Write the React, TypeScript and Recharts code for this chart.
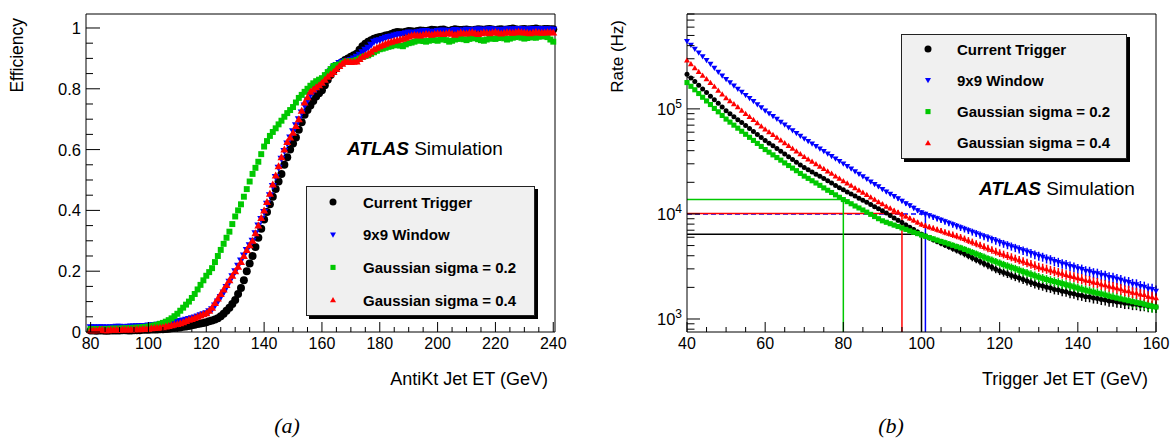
import React from 'react'
import { ScatterChart, Scatter, XAxis, YAxis, ReferenceLine, ErrorBar } from 'recharts'

const FONT = '"Liberation Sans", Arial, Helvetica, sans-serif'

// ---- (a) turn-on curves: efficiency vs offline AntiKt jet ET, 1 GeV bins ----
const etOffline = [
  80, 81, 82, 83, 84, 85, 86, 87, 88, 89,
  90, 91, 92, 93, 94, 95, 96, 97, 98, 99,
  100, 101, 102, 103, 104, 105, 106, 107, 108, 109,
  110, 111, 112, 113, 114, 115, 116, 117, 118, 119,
  120, 121, 122, 123, 124, 125, 126, 127, 128, 129,
  130, 131, 132, 133, 134, 135, 136, 137, 138, 139,
  140, 141, 142, 143, 144, 145, 146, 147, 148, 149,
  150, 151, 152, 153, 154, 155, 156, 157, 158, 159,
  160, 161, 162, 163, 164, 165, 166, 167, 168, 169,
  170, 171, 172, 173, 174, 175, 176, 177, 178, 179,
  180, 181, 182, 183, 184, 185, 186, 187, 188, 189,
  190, 191, 192, 193, 194, 195, 196, 197, 198, 199,
  200, 201, 202, 203, 204, 205, 206, 207, 208, 209,
  210, 211, 212, 213, 214, 215, 216, 217, 218, 219,
  220, 221, 222, 223, 224, 225, 226, 227, 228, 229,
  230, 231, 232, 233, 234, 235, 236, 237, 238, 239,
  240,
]
const effCurrent = [
  0.005, 0.005, 0.004, 0.005, 0.005, 0.004, 0.004, 0.005, 0.005, 0.005,
  0.005, 0.006, 0.006, 0.005, 0.005, 0.006, 0.006, 0.006, 0.007, 0.007,
  0.007, 0.008, 0.008, 0.008, 0.009, 0.009, 0.010, 0.011, 0.012, 0.013,
  0.014, 0.015, 0.017, 0.018, 0.020, 0.022, 0.024, 0.026, 0.028, 0.030,
  0.032, 0.035, 0.038, 0.041, 0.045, 0.052, 0.060, 0.070, 0.080, 0.092,
  0.105, 0.125, 0.145, 0.170, 0.200, 0.225, 0.250, 0.280, 0.310, 0.340,
  0.370, 0.395, 0.420, 0.445, 0.470, 0.495, 0.520, 0.550, 0.575, 0.600,
  0.620, 0.640, 0.665, 0.690, 0.715, 0.730, 0.745, 0.760, 0.775, 0.785,
  0.795, 0.812, 0.830, 0.845, 0.860, 0.870, 0.880, 0.888, 0.895, 0.900,
  0.905, 0.910, 0.915, 0.928, 0.940, 0.948, 0.955, 0.960, 0.965, 0.968,
  0.970, 0.972, 0.975, 0.977, 0.980, 0.984, 0.987, 0.986, 0.985, 0.988,
  0.990, 0.989, 0.988, 0.990, 0.992, 0.991, 0.990, 0.992, 0.994, 0.993,
  0.992, 0.994, 0.995, 0.992, 0.990, 0.993, 0.996, 0.994, 0.993, 0.994,
  0.995, 0.993, 0.992, 0.994, 0.996, 0.995, 0.994, 0.996, 0.997, 0.995,
  0.993, 0.995, 0.996, 0.994, 0.995, 0.997, 0.998, 0.996, 0.994, 0.996,
  0.997, 0.995, 0.996, 0.997, 0.998, 0.996, 0.995, 0.997, 0.997, 0.996,
  0.996,
]
const eff9x9 = [
  0.016, 0.016, 0.015, 0.016, 0.016, 0.015, 0.015, 0.016, 0.016, 0.017,
  0.017, 0.016, 0.016, 0.017, 0.018, 0.018, 0.019, 0.019, 0.020, 0.020,
  0.021, 0.022, 0.023, 0.024, 0.025, 0.026, 0.027, 0.028, 0.030, 0.032,
  0.034, 0.036, 0.038, 0.040, 0.043, 0.045, 0.048, 0.051, 0.055, 0.058,
  0.062, 0.068, 0.075, 0.087, 0.100, 0.115, 0.130, 0.148, 0.165, 0.183,
  0.200, 0.218, 0.235, 0.252, 0.270, 0.285, 0.300, 0.325, 0.350, 0.372,
  0.395, 0.422, 0.450, 0.480, 0.510, 0.540, 0.570, 0.595, 0.620, 0.640,
  0.660, 0.680, 0.700, 0.722, 0.745, 0.762, 0.780, 0.790, 0.800, 0.810,
  0.820, 0.832, 0.845, 0.858, 0.870, 0.878, 0.885, 0.888, 0.890, 0.892,
  0.895, 0.900, 0.905, 0.912, 0.920, 0.928, 0.935, 0.945, 0.955, 0.958,
  0.960, 0.964, 0.968, 0.970, 0.972, 0.975, 0.978, 0.979, 0.980, 0.983,
  0.985, 0.984, 0.983, 0.986, 0.988, 0.989, 0.990, 0.988, 0.986, 0.988,
  0.990, 0.991, 0.992, 0.990, 0.989, 0.991, 0.993, 0.992, 0.990, 0.992,
  0.994, 0.993, 0.992, 0.994, 0.995, 0.994, 0.993, 0.995, 0.996, 0.995,
  0.994, 0.993, 0.992, 0.994, 0.996, 0.995, 0.995, 0.996, 0.997, 0.996,
  0.994, 0.995, 0.996, 0.997, 0.997, 0.996, 0.995, 0.996, 0.996, 0.995,
  0.994,
]
const effGaus02 = [
  0.010, 0.010, 0.009, 0.010, 0.010, 0.010, 0.010, 0.011, 0.011, 0.011,
  0.011, 0.012, 0.012, 0.012, 0.013, 0.014, 0.014, 0.015, 0.016, 0.017,
  0.018, 0.020, 0.022, 0.024, 0.027, 0.030, 0.034, 0.039, 0.045, 0.052,
  0.060, 0.070, 0.080, 0.090, 0.100, 0.112, 0.125, 0.140, 0.155, 0.170,
  0.185, 0.197, 0.210, 0.230, 0.250, 0.270, 0.290, 0.310, 0.330, 0.355,
  0.380, 0.400, 0.420, 0.445, 0.470, 0.495, 0.520, 0.540, 0.560, 0.585,
  0.610, 0.628, 0.645, 0.658, 0.670, 0.683, 0.695, 0.708, 0.720, 0.730,
  0.740, 0.755, 0.770, 0.780, 0.790, 0.800, 0.810, 0.818, 0.825, 0.830,
  0.835, 0.845, 0.855, 0.865, 0.875, 0.878, 0.880, 0.885, 0.890, 0.890,
  0.890, 0.892, 0.895, 0.900, 0.905, 0.908, 0.910, 0.915, 0.920, 0.925,
  0.930, 0.932, 0.935, 0.938, 0.940, 0.943, 0.945, 0.942, 0.940, 0.946,
  0.950, 0.952, 0.955, 0.958, 0.960, 0.957, 0.955, 0.958, 0.962, 0.960,
  0.958, 0.962, 0.965, 0.960, 0.955, 0.958, 0.962, 0.964, 0.966, 0.963,
  0.960, 0.964, 0.968, 0.966, 0.963, 0.960, 0.958, 0.962, 0.966, 0.965,
  0.964, 0.967, 0.970, 0.966, 0.962, 0.965, 0.968, 0.970, 0.972, 0.968,
  0.965, 0.967, 0.970, 0.969, 0.968, 0.971, 0.974, 0.972, 0.970, 0.962,
  0.955,
]
const effGaus04 = [
  0.006, 0.006, 0.006, 0.007, 0.007, 0.006, 0.006, 0.007, 0.007, 0.007,
  0.007, 0.008, 0.008, 0.008, 0.008, 0.009, 0.009, 0.009, 0.010, 0.010,
  0.011, 0.012, 0.013, 0.014, 0.015, 0.016, 0.018, 0.020, 0.022, 0.024,
  0.026, 0.029, 0.032, 0.036, 0.040, 0.043, 0.046, 0.050, 0.054, 0.058,
  0.062, 0.070, 0.080, 0.095, 0.110, 0.125, 0.140, 0.155, 0.170, 0.185,
  0.200, 0.215, 0.230, 0.250, 0.270, 0.285, 0.300, 0.325, 0.350, 0.375,
  0.400, 0.428, 0.455, 0.485, 0.515, 0.545, 0.575, 0.600, 0.625, 0.640,
  0.655, 0.678, 0.700, 0.728, 0.755, 0.772, 0.790, 0.798, 0.805, 0.812,
  0.820, 0.830, 0.840, 0.848, 0.855, 0.865, 0.875, 0.882, 0.890, 0.889,
  0.888, 0.889, 0.890, 0.898, 0.905, 0.910, 0.915, 0.922, 0.930, 0.935,
  0.940, 0.944, 0.948, 0.952, 0.955, 0.958, 0.960, 0.962, 0.965, 0.968,
  0.972, 0.975, 0.977, 0.976, 0.975, 0.978, 0.980, 0.979, 0.978, 0.980,
  0.982, 0.981, 0.980, 0.982, 0.984, 0.981, 0.978, 0.982, 0.985, 0.983,
  0.982, 0.984, 0.986, 0.983, 0.980, 0.983, 0.985, 0.984, 0.983, 0.985,
  0.987, 0.984, 0.982, 0.984, 0.986, 0.985, 0.984, 0.986, 0.988, 0.986,
  0.985, 0.984, 0.983, 0.985, 0.987, 0.985, 0.984, 0.985, 0.986, 0.986,
  0.985,
]

// ---- (b) trigger rate (Hz) vs trigger jet ET, 1 GeV bins ----
const etTrigger = [
  40, 41, 42, 43, 44, 45, 46, 47, 48, 49,
  50, 51, 52, 53, 54, 55, 56, 57, 58, 59,
  60, 61, 62, 63, 64, 65, 66, 67, 68, 69,
  70, 71, 72, 73, 74, 75, 76, 77, 78, 79,
  80, 81, 82, 83, 84, 85, 86, 87, 88, 89,
  90, 91, 92, 93, 94, 95, 96, 97, 98, 99,
  100, 101, 102, 103, 104, 105, 106, 107, 108, 109,
  110, 111, 112, 113, 114, 115, 116, 117, 118, 119,
  120, 121, 122, 123, 124, 125, 126, 127, 128, 129,
  130, 131, 132, 133, 134, 135, 136, 137, 138, 139,
  140, 141, 142, 143, 144, 145, 146, 147, 148, 149,
  150, 151, 152, 153, 154, 155, 156, 157, 158, 159,
  160,
]
const rateCurrent = [
  214000, 197000, 182000, 168000, 155000, 143000, 132000, 122000, 113000, 104000,
  96000, 90000, 84200, 79000, 74000, 69300, 64900, 60800, 57000, 53400,
  50000, 47200, 44500, 41900, 39400, 37200, 35100, 33000, 31100, 29300,
  27700, 26400, 25100, 23900, 22800, 21700, 20700, 19700, 18700, 17800,
  17000, 16200, 15500, 14800, 14100, 13500, 12900, 12300, 11700, 11200,
  10700, 10200, 9640, 9160, 8710, 8270, 7850, 7460, 7100, 6740,
  6400, 6150, 5920, 5690, 5480, 5270, 5070, 4880, 4700, 4520,
  4350, 4170, 4000, 3830, 3670, 3520, 3380, 3240, 3100, 2980,
  2860, 2770, 2690, 2600, 2520, 2450, 2380, 2300, 2230, 2160,
  2100, 2060, 2000, 1970, 1910, 1890, 1840, 1820, 1760, 1740,
  1690, 1670, 1630, 1620, 1580, 1570, 1530, 1520, 1480, 1480,
  1450, 1440, 1410, 1410, 1380, 1380, 1350, 1350, 1320, 1320,
  1300,
]
const rate9x9 = [
  440000, 405000, 372000, 342000, 315000, 290000, 267000, 245000, 225000, 207000,
  191000, 178000, 166000, 155000, 145000, 135000, 126000, 118000, 110000, 103000,
  96000, 90300, 84900, 79900, 75200, 70700, 66400, 62400, 58700, 55200,
  52000, 49200, 46600, 44100, 41700, 39500, 37400, 35400, 33500, 31700,
  30000, 28400, 26900, 25400, 24000, 22700, 21500, 20300, 19200, 18200,
  17200, 16300, 15500, 14700, 14000, 13300, 12600, 12000, 11400, 10800,
  10300, 9960, 9640, 9330, 9040, 8740, 8450, 8180, 7920, 7660,
  7410, 7180, 6950, 6730, 6520, 6310, 6110, 5920, 5730, 5550,
  5370, 5210, 5060, 4910, 4760, 4620, 4490, 4360, 4230, 4100,
  3980, 3890, 3750, 3680, 3540, 3470, 3360, 3300, 3180, 3120,
  3020, 2970, 2870, 2830, 2740, 2710, 2620, 2590, 2500, 2470,
  2400, 2350, 2270, 2240, 2150, 2130, 2050, 2020, 1940, 1920,
  1850,
]
const rateGaus02 = [
  178000, 164000, 152000, 140000, 129000, 119000, 110000, 101000, 93800, 86600,
  80000, 74800, 70000, 65500, 61200, 57300, 53600, 50100, 46900, 43900,
  41000, 38700, 36500, 34400, 32500, 30600, 28900, 27300, 25800, 24300,
  22900, 21800, 20700, 19700, 18700, 17700, 16800, 16000, 15200, 14400,
  13700, 13100, 12500, 11900, 11400, 10900, 10400, 9910, 9440, 9010,
  8600, 8330, 8070, 7830, 7590, 7360, 7130, 6910, 6700, 6500,
  6300, 6130, 5960, 5790, 5620, 5470, 5320, 5170, 5020, 4880,
  4750, 4600, 4450, 4300, 4160, 4020, 3880, 3750, 3630, 3510,
  3400, 3290, 3190, 3100, 3010, 2910, 2820, 2740, 2660, 2580,
  2500, 2440, 2380, 2320, 2270, 2220, 2170, 2120, 2070, 2020,
  1970, 1920, 1880, 1840, 1800, 1760, 1730, 1690, 1650, 1610,
  1580, 1550, 1520, 1490, 1460, 1430, 1410, 1380, 1350, 1320,
  1300,
]
const rateGaus04 = [
  290000, 267000, 245000, 226000, 208000, 192000, 177000, 163000, 150000, 138000,
  127000, 119000, 111000, 104000, 96600, 90100, 84100, 78600, 73400, 68500,
  64000, 60300, 56800, 53400, 50200, 47300, 44600, 41900, 39400, 37100,
  35000, 33200, 31500, 29900, 28300, 26900, 25500, 24200, 22900, 21700,
  20600, 19600, 18600, 17700, 16800, 16000, 15200, 14400, 13700, 13000,
  12400, 11800, 11300, 10800, 10400, 9950, 9510, 9100, 8710, 8330,
  7960, 7740, 7520, 7310, 7110, 6910, 6710, 6530, 6350, 6170,
  6000, 5800, 5600, 5410, 5220, 5050, 4880, 4710, 4550, 4400,
  4250, 4120, 4000, 3880, 3760, 3650, 3540, 3430, 3330, 3230,
  3130, 3060, 2990, 2910, 2840, 2770, 2710, 2640, 2580, 2520,
  2460, 2410, 2340, 2310, 2240, 2210, 2140, 2110, 2050, 2020,
  1970, 1930, 1870, 1850, 1790, 1770, 1720, 1700, 1640, 1620,
  1580,
]
// relative statistical error per bin
const rateRelErr = [
  0.004, 0.004, 0.005, 0.004, 0.005, 0.005, 0.006, 0.005, 0.006, 0.006,
  0.007, 0.008, 0.008, 0.008, 0.009, 0.009, 0.010, 0.011, 0.011, 0.011,
  0.012, 0.012, 0.013, 0.014, 0.015, 0.015, 0.016, 0.016, 0.017, 0.018,
  0.019, 0.020, 0.020, 0.021, 0.022, 0.023, 0.024, 0.025, 0.026, 0.027,
  0.028, 0.029, 0.030, 0.032, 0.033, 0.034, 0.035, 0.037, 0.038, 0.040,
  0.041, 0.042, 0.044, 0.045, 0.047, 0.048, 0.049, 0.051, 0.053, 0.054,
  0.056, 0.057, 0.059, 0.061, 0.062, 0.064, 0.065, 0.066, 0.069, 0.070,
  0.072, 0.073, 0.074, 0.076, 0.077, 0.078, 0.080, 0.081, 0.082, 0.084,
  0.085, 0.086, 0.088, 0.089, 0.090, 0.092, 0.093, 0.094, 0.096, 0.097,
  0.098, 0.098, 0.100, 0.101, 0.102, 0.102, 0.104, 0.105, 0.106, 0.106,
  0.108, 0.109, 0.109, 0.110, 0.112, 0.112, 0.113, 0.114, 0.114, 0.116,
  0.117, 0.117, 0.118, 0.120, 0.120, 0.121, 0.122, 0.122, 0.124, 0.125,
  0.125,
]

// thresholds matched between algorithms: ET cut and rate
const thrEt = [100, 101, 80, 95]
const thrRate = [6400, 10000, 13700, 10100]

const names = ['Current Trigger', '9x9 Window', 'Gaussian sigma = 0.2', 'Gaussian sigma = 0.4']
const colors = ['#000000', '#0000ff', '#00c800', '#ff0000']
const kinds = ['circle', 'down', 'square', 'up']

const effXTicks = [80, 85, 90, 95, 100, 105, 110, 115, 120, 125, 130, 135, 140, 145, 150, 155, 160, 165, 170, 175, 180, 185, 190, 195, 200, 205, 210, 215, 220, 225, 230, 235, 240]
const effXMajor = [80, 100, 120, 140, 160, 180, 200, 220, 240]
const effYTicks = [0, 0.05, 0.1, 0.15, 0.2, 0.25, 0.3, 0.35, 0.4, 0.45, 0.5, 0.55, 0.6, 0.65, 0.7, 0.75, 0.8, 0.85, 0.9, 0.95, 1]
const effYMajor = [0, 0.2, 0.4, 0.6, 0.8, 1]

const rateXTicks = [40, 45, 50, 55, 60, 65, 70, 75, 80, 85, 90, 95, 100, 105, 110, 115, 120, 125, 130, 135, 140, 145, 150, 155, 160]
const rateXMajor = [40, 60, 80, 100, 120, 140, 160]
const rateYTicks = [
  800, 900, 1000, 2000, 3000, 4000, 5000, 6000, 7000, 8000, 9000,
  10000, 20000, 30000, 40000, 50000, 60000, 70000, 80000, 90000,
  100000, 200000, 300000, 400000, 500000, 600000, 700000, 800000,
]
const rateYMajor = [1000, 10000, 100000]
const RATE_MIN = 752
const RATE_MAX = 800000

function Marker({ cx, cy, kind, color, s }: { cx: number; cy: number; kind: string; color: string; s: number }) {
  if (cx == null || cy == null) return null
  const h = s / 2
  if (kind === 'circle') return <circle cx={cx} cy={cy} r={h} fill={color} />
  if (kind === 'square') return <rect x={cx - h * 0.85} y={cy - h * 0.85} width={s * 0.85} height={s * 0.85} fill={color} />
  if (kind === 'up') return <polygon points={`${cx},${cy - h} ${cx - h},${cy + h * 0.75} ${cx + h},${cy + h * 0.75}`} fill={color} />
  return <polygon points={`${cx},${cy + h} ${cx - h},${cy - h * 0.75} ${cx + h},${cy - h * 0.75}`} fill={color} />
}

const xTick = (majors: number[], side: 'bottom' | 'top', big: number, small: number) => (p: any) => {
  const v = p.payload.value
  const isMajor = majors.includes(v)
  const len = isMajor ? big : small
  const dir = side === 'bottom' ? -1 : 1
  return (
    <g>
      <line x1={p.x} x2={p.x} y1={p.y} y2={p.y + dir * len} stroke="#000" strokeWidth={1} />
      {side === 'bottom' && isMajor && (
        <text x={p.x} y={p.y + 16.5} textAnchor="middle" fontSize={16} fontFamily={FONT} fill="#000">{v}</text>
      )}
    </g>
  )
}

const yTick = (majors: number[], side: 'left' | 'right', big: number, small: number, pow: boolean) => (p: any) => {
  const v = p.payload.value
  const isMajor = majors.includes(v)
  const len = isMajor ? big : small
  const dir = side === 'left' ? 1 : -1
  return (
    <g>
      <line x1={p.x} x2={p.x + dir * len} y1={p.y} y2={p.y} stroke="#000" strokeWidth={1} />
      {side === 'left' && isMajor && !pow && (
        <text x={p.x - 5} y={p.y + 6} textAnchor="end" fontSize={16.5} fontFamily={FONT} fill="#000">{v}</text>
      )}
      {side === 'left' && isMajor && pow && (
        <text x={p.x - 5} y={p.y + 6} textAnchor="end" fontSize={16.5} fontFamily={FONT} fill="#000">
          10<tspan dy={-7} fontSize={12}>{Math.round(Math.log10(v))}</tspan>
        </text>
      )}
    </g>
  )
}

const effSeries = [effCurrent, eff9x9, effGaus02, effGaus04]
const rateSeries = [rateCurrent, rate9x9, rateGaus02, rateGaus04]

function EfficiencyPanel() {
  return (
    <div style={{ position: 'absolute', left: 0, top: 0, width: 570, height: 400 }}>
      <ScatterChart width={570} height={400} margin={{ top: 13, right: 14, bottom: 38, left: 26 }}>
        <XAxis type="number" dataKey="x" domain={[78.4, 240.6]} ticks={effXTicks} interval={0} height={30}
          tickSize={0} tickMargin={0} tickLine={false} axisLine={{ stroke: '#000' }} tick={xTick(effXMajor, 'bottom', 10, 5)} />
        <XAxis xAxisId="top" orientation="top" type="number" domain={[78.4, 240.6]} ticks={effXTicks} interval={0} height={1}
          tickSize={0} tickMargin={0} tickLine={false} axisLine={{ stroke: '#000' }} tick={xTick(effXMajor, 'top', 9, 4.5)} />
        <YAxis type="number" dataKey="y" domain={[0, 1.046]} ticks={effYTicks} interval={0} width={60}
          tickSize={0} tickMargin={0} tickLine={false} axisLine={{ stroke: '#000' }} tick={yTick(effYMajor, 'left', 14, 7, false)} />
        <YAxis yAxisId="right" orientation="right" type="number" domain={[0, 1.046]} ticks={effYTicks} interval={0} width={1}
          tickSize={0} tickMargin={0} tickLine={false} axisLine={{ stroke: '#000' }} tick={yTick(effYMajor, 'right', 14, 7, false)} />
        {effSeries.map((vals, k) => (
          <Scatter key={names[k]} name={names[k]} data={etOffline.map((x, i) => ({ x, y: vals[i] }))} isAnimationActive={false}
            shape={(p: any) => <Marker cx={p.cx} cy={p.cy} kind={kinds[k]} color={colors[k]} s={k === 2 ? 7 : 8} />} />
        ))}
      </ScatterChart>
    </div>
  )
}

function RatePanel() {
  return (
    <div style={{ position: 'absolute', left: 600, top: 0, width: 571, height: 400 }}>
      <ScatterChart width={571} height={400} margin={{ top: 13, right: 14, bottom: 38, left: 27 }}>
        <XAxis type="number" dataKey="x" domain={[40, 160]} ticks={rateXTicks} interval={0} height={30}
          tickSize={0} tickMargin={0} tickLine={false} axisLine={{ stroke: '#000' }} tick={xTick(rateXMajor, 'bottom', 10, 5)} />
        <XAxis xAxisId="top" orientation="top" type="number" domain={[40, 160]} ticks={rateXTicks} interval={0} height={1}
          tickSize={0} tickMargin={0} tickLine={false} axisLine={{ stroke: '#000' }} tick={xTick(rateXMajor, 'top', 9, 4.5)} />
        <YAxis type="number" dataKey="y" scale="log" domain={[RATE_MIN, RATE_MAX]} ticks={rateYTicks} interval={0} width={60}
          tickSize={0} tickMargin={0} tickLine={false} axisLine={{ stroke: '#000' }} tick={yTick(rateYMajor, 'left', 13, 7.5, true)} />
        <YAxis yAxisId="right" orientation="right" type="number" scale="log" domain={[RATE_MIN, RATE_MAX]} ticks={rateYTicks} interval={0} width={1}
          tickSize={0} tickMargin={0} tickLine={false} axisLine={{ stroke: '#000' }} tick={yTick(rateYMajor, 'right', 13, 7.5, true)} />
        {thrEt.map((et, k) => (
          <ReferenceLine key={'h' + k} segment={[{ x: 40, y: thrRate[k] }, { x: et, y: thrRate[k] }]}
            stroke={colors[k]} strokeWidth={1.5} strokeDasharray={k === 1 ? '5 3' : undefined} />
        ))}
        {thrEt.map((et, k) => (
          <ReferenceLine key={'v' + k} segment={[{ x: et, y: thrRate[k] }, { x: et, y: RATE_MIN }]}
            stroke={colors[k]} strokeWidth={1.5} />
        ))}
        {rateSeries.map((vals, k) => (
          <Scatter key={names[k]} name={names[k]} isAnimationActive={false}
            data={etTrigger.map((x, i) => ({ x, y: vals[i], err: vals[i] * rateRelErr[i] }))}
            shape={(p: any) => <Marker cx={p.cx} cy={p.cy} kind={kinds[k]} color={colors[k]} s={k === 0 ? 5 : 6} />}>
            <ErrorBar dataKey="err" direction="y" width={0} stroke={colors[k]} strokeWidth={1.5} />
          </Scatter>
        ))}
      </ScatterChart>
    </div>
  )
}

function LegendBox({ left, top, width, height, row0, step, markX, textX }: {
  left: number; top: number; width: number; height: number; row0: number; step: number; markX: number; textX: number
}) {
  return (
    <div style={{ position: 'absolute', left, top, width, height, boxSizing: 'border-box', background: '#f0f0f0',
      border: '1px solid #222', boxShadow: '3px 3px 0 #000' }}>
      <svg width={width - 2} height={height - 2} style={{ display: 'block' }}>
        {names.map((n, i) => (
          <g key={n}>
            <Marker cx={markX} cy={row0 + i * step} kind={kinds[i]} color={colors[i]} s={i === 0 ? 7 : 6} />
            <text x={textX} y={row0 + i * step + 5.5} fontSize={15} fontWeight="bold" fontFamily={FONT} fill="#000">{n}</text>
          </g>
        ))}
      </svg>
    </div>
  )
}

export default function App() {
  return (
    <div style={{ position: 'absolute', left: 0, top: 0, width: 1171, height: 438, background: '#fff', overflow: 'hidden' }}>
      <EfficiencyPanel />
      <RatePanel />
      <LegendBox left={306} top={186} width={229} height={130} row0={15} step={32.7} markX={26} textX={56} />
      <LegendBox left={901} top={34} width={226} height={125} row0={14} step={31.3} markX={26} textX={55} />
      <svg width={1171} height={438} style={{ position: 'absolute', left: 0, top: 0, pointerEvents: 'none' }}>
        <text transform="rotate(-90 23 18)" x={23} y={18} textAnchor="end" fontSize={17.5} fontFamily={FONT}>Efficiency</text>
        <text transform="rotate(-90 623 20)" x={623} y={20} textAnchor="end" fontSize={17} fontFamily={FONT}>Rate (Hz)</text>
        <text x={548} y={384.5} textAnchor="end" fontSize={18} fontFamily={FONT}>AntiKt Jet ET (GeV)</text>
        <text x={1148} y={384.5} textAnchor="end" fontSize={18} fontFamily={FONT}>Trigger Jet ET (GeV)</text>
        <text x={347} y={155} fontSize={19} fontFamily={FONT}>
          <tspan fontWeight="bold" fontStyle="italic">ATLAS</tspan> Simulation
        </text>
        <text x={979} y={195} fontSize={19} fontFamily={FONT}>
          <tspan fontWeight="bold" fontStyle="italic">ATLAS</tspan> Simulation
        </text>
        <text x={287} y={433} textAnchor="middle" fontSize={22} fontStyle="italic" fontFamily='"Liberation Serif", serif'>(a)</text>
        <text x={891} y={433} textAnchor="middle" fontSize={22} fontStyle="italic" fontFamily='"Liberation Serif", serif'>(b)</text>
      </svg>
    </div>
  )
}
